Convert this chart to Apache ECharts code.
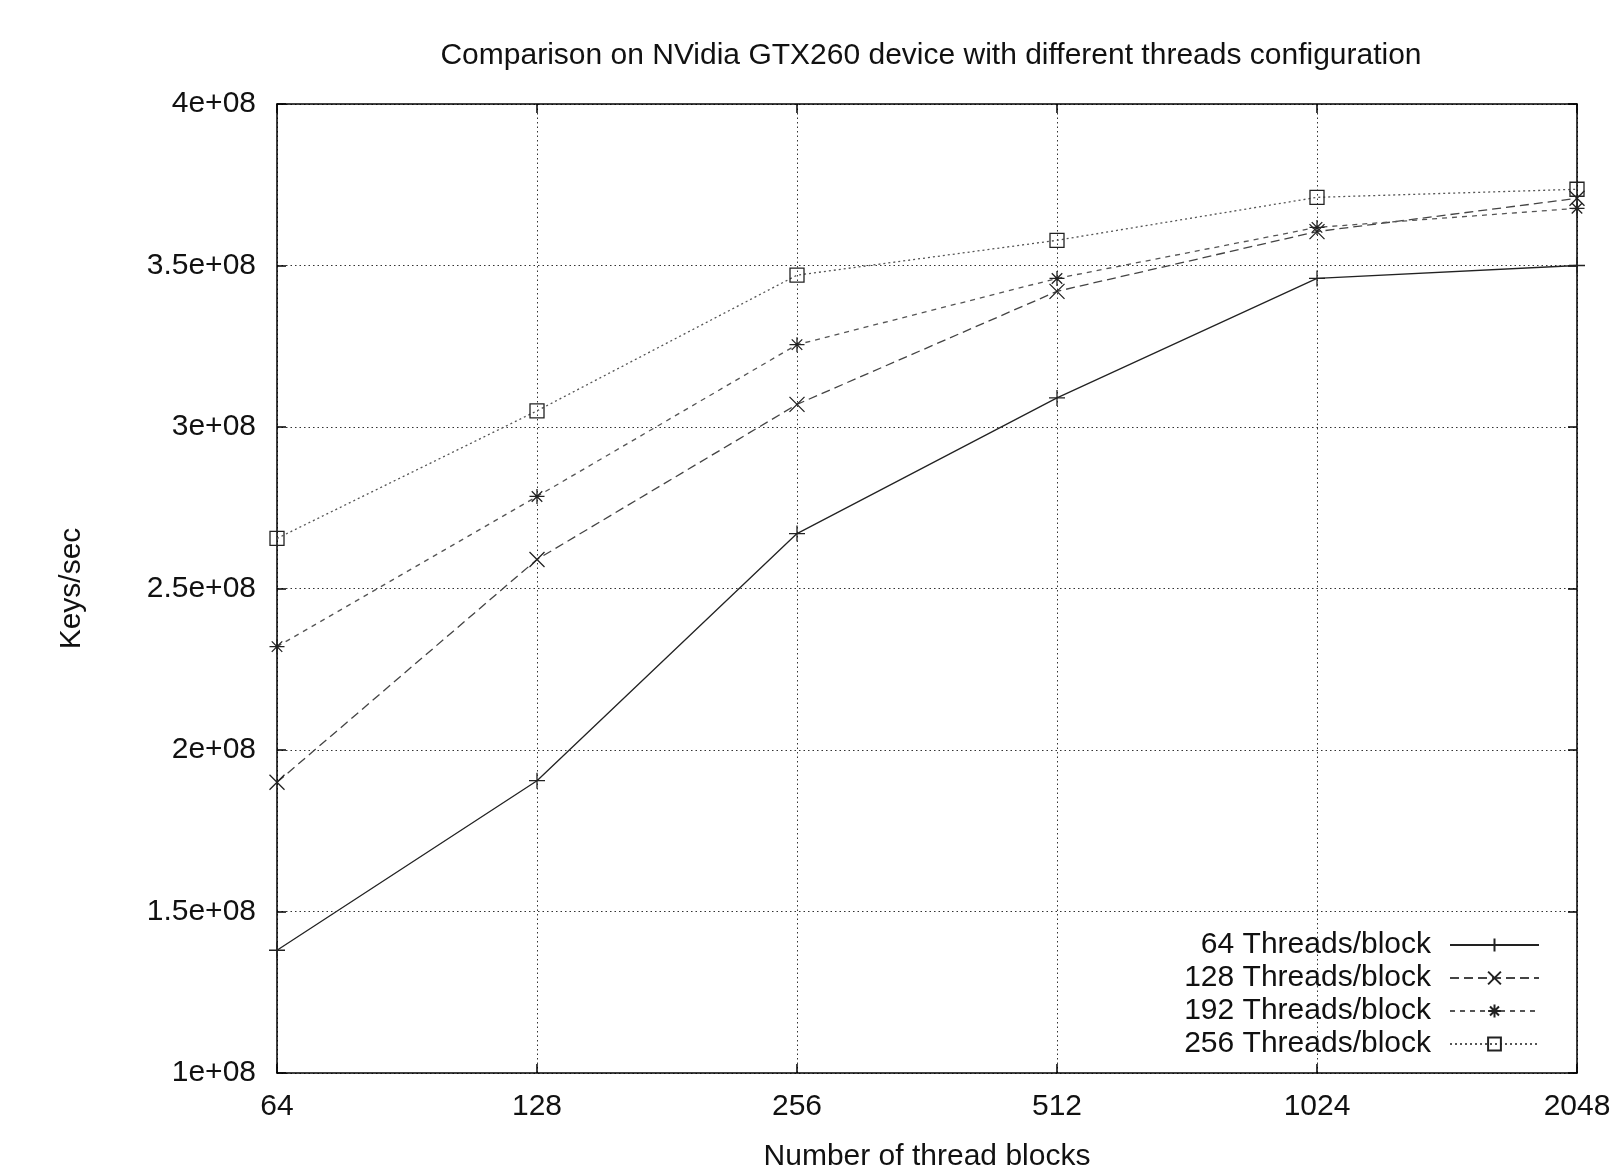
<!DOCTYPE html>
<html>
<head>
<meta charset="utf-8">
<script src="https://cdn.jsdelivr.net/npm/echarts@6/dist/echarts.min.js"></script>
<style>
html, body { margin: 0; padding: 0; background: #fff; }
#chart { width: 1612px; height: 1170px; }
</style>
</head>
<body>
<div id="chart"></div>
<script>
// thread blocks on x (log2 spaced -> equal categories)
var blocks = ['64', '128', '256', '512', '1024', '2048'];
// keys/sec per threads-per-block setting
var t64  = [1.38e8, 1.905e8, 2.67e8, 3.09e8, 3.46e8, 3.50e8];
var t128 = [1.90e8, 2.59e8, 3.07e8, 3.42e8, 3.605e8, 3.708e8];
var t192 = [2.32e8, 2.785e8, 3.255e8, 3.46e8, 3.618e8, 3.677e8];
var t256 = [2.655e8, 3.05e8, 3.47e8, 3.578e8, 3.711e8, 3.736e8];
var seriesNames = ['64 Threads/block', '128 Threads/block', '192 Threads/block', '256 Threads/block'];
var yMin = 1e8, yMax = 4e8, yStep = 5e7;

var FONT = 'Liberation Sans';
var FS = 30;

function sci(v) {
    var e = Math.floor(Math.log10(v));
    var m = Math.round(v / Math.pow(10, e) * 100) / 100;
    return m + 'e+' + (e < 10 ? '0' : '') + e;
}

var plusSym = 'path://M5,0L5,10M0,5L10,5';
var crossSym = 'path://M0,0L10,10M10,0L0,10';
var starSym = 'path://M5,0L5,10M0,5L10,5M1.5,1.5L8.5,8.5M8.5,1.5L1.5,8.5';

function mkSeries(name, data, sym, size, dash, color) {
    return {
        name: name,
        type: 'line',
        data: data,
        symbol: sym,
        symbolSize: size,
        clip: false,
        lineStyle: { color: color, width: 1.3, type: dash },
        itemStyle: { color: 'rgba(0,0,0,0)', borderColor: '#222', borderWidth: 1.3 },
        emphasis: { disabled: true },
        animation: false
    };
}

var chart = echarts.init(document.getElementById('chart'));
var hiddenAxisY = {
    type: 'value', position: 'right', min: yMin, max: yMax, interval: yStep,
    axisLine: { show: true, lineStyle: { color: '#000', width: 1.5 } },
    axisTick: { show: true, inside: true, length: 9, lineStyle: { color: '#000', width: 1.5 } },
    axisLabel: { show: false },
    splitLine: { show: false }
};
chart.setOption({
    backgroundColor: '#fff',
    title: {
        text: 'Comparison on NVidia GTX260 device with different threads configuration',
        left: 926,
        textAlign: 'center',
        top: 36,
        textStyle: { fontFamily: FONT, fontSize: FS, fontWeight: 'normal', color: '#111' }
    },
    grid: { left: 277, right: 35, top: 104, bottom: 97, containLabel: false, outerBoundsMode: 'none' },
    legend: {
        data: seriesNames,
        orient: 'vertical',
        align: 'right',
        right: 67,
        top: 925,
        itemWidth: 89,
        itemHeight: 16,
        itemGap: 3,
        textStyle: { fontFamily: FONT, fontSize: FS, color: '#111', lineHeight: 30, padding: [0, 14, 0, 0] }
    },
    xAxis: [{
        type: 'category',
        data: blocks,
        boundaryGap: false,
        name: 'Number of thread blocks',
        nameLocation: 'middle',
        nameGap: 69,
        nameTextStyle: { fontFamily: FONT, fontSize: FS, color: '#111' },
        axisLine: { lineStyle: { color: '#000', width: 1.5 } },
        axisTick: { inside: true, length: 9, alignWithLabel: true, lineStyle: { color: '#000', width: 1.5 } },
        axisLabel: { fontFamily: FONT, fontSize: FS, color: '#111', margin: 19 },
        splitLine: { show: true, lineStyle: { color: '#333', width: 1, type: [1.5, 3] } }
    }, {
        type: 'category',
        data: blocks,
        boundaryGap: false,
        position: 'top',
        axisLine: { show: true, lineStyle: { color: '#000', width: 1.5 } },
        axisTick: { inside: true, length: 9, lineStyle: { color: '#000', width: 1.5 } },
        axisLabel: { show: false },
        splitLine: { show: false }
    }],
    yAxis: [{
        type: 'value',
        min: yMin,
        max: yMax,
        interval: yStep,
        name: 'Keys/sec',
        nameLocation: 'middle',
        nameGap: 190,
        nameRotate: 90,
        nameTextStyle: { fontFamily: FONT, fontSize: FS, color: '#111' },
        axisLine: { show: true, lineStyle: { color: '#000', width: 1.5 } },
        axisTick: { show: true, inside: true, length: 9, lineStyle: { color: '#000', width: 1.5 } },
        axisLabel: { fontFamily: FONT, fontSize: FS, color: '#111', margin: 21, formatter: sci },
        splitLine: { show: true, lineStyle: { color: '#333', width: 1, type: [1.5, 3] } }
    }, hiddenAxisY],
    series: [
        mkSeries(seriesNames[0], t64, plusSym, 16, 'solid', '#222'),
        mkSeries(seriesNames[1], t128, crossSym, 15, [9, 5], '#444'),
        mkSeries(seriesNames[2], t192, starSym, 15, [5, 5], '#555'),
        mkSeries(seriesNames[3], t256, 'rect', 14, [2, 3], '#555')
    ]
});
</script>
</body>
</html>
